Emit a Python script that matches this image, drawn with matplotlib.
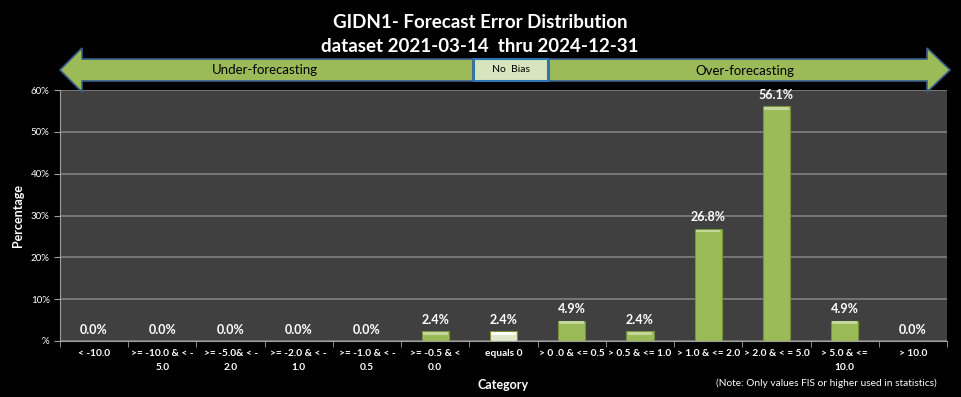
import matplotlib.pyplot as plt
import numpy as np
from matplotlib.patches import Polygon, Rectangle

categories = ['< -10.0', '>= -10.0 & < -\n5.0', '>= -5.0& < -\n2.0', '>= -2.0 & < -\n1.0',
              '>= -1.0 & < -\n0.5', '>= -0.5 & <\n0.0', 'equals 0', '> 0 .0 & <= 0.5',
              '> 0.5 & <= 1.0', '> 1.0 & <= 2.0', '> 2.0 & < = 5.0', '> 5.0 & <=\n10.0', '> 10.0']
percent = [0.0, 0.0, 0.0, 0.0, 0.0, 2.4, 2.4, 4.9, 2.4, 26.8, 56.1, 4.9, 0.0]
title_lines = ['GIDN1- Forecast Error Distribution', 'dataset 2021-03-14  thru 2024-12-31']

plt.rcParams['font.family'] = ['Lato', 'DejaVu Sans']

W, H = 961, 397
fig = plt.figure(figsize=(W / 100, H / 100), dpi=100)
fig.patch.set_facecolor('black')

ax = fig.add_axes([60 / W, 1 - 341 / H, 887 / W, 251 / H])
ax.set_facecolor('#404040')

index = np.arange(len(categories))
colors = ['#9bbb59'] * len(categories)
tops = ['#c3d69b'] * len(categories)
zero_i = categories.index('equals 0')
colors[zero_i] = '#dfe8cc'
tops[zero_i] = '#ffffff'
ax.bar(index, percent, 0.4, color=colors, edgecolor='#76923c', linewidth=0.8, zorder=3)
# bevel highlight at the top of each bar
vals = np.array(percent)
band = np.minimum(vals, 0.7)
ax.bar(index, band, 0.36, bottom=vals - band - 0.15 * (vals > 0), color=tops,
       linewidth=0, zorder=4)

for x, v in zip(index, percent):
    ax.text(x, v + 1.3, f'{v:.1f}%', ha='center', va='bottom', color='white',
            fontsize=9, fontweight='bold', zorder=4)

ax.set_xlim(-0.5, len(categories) - 0.5)
ax.set_ylim(0, 60)
ax.set_yticks(np.arange(0, 61, 10))
ax.set_yticklabels(['%'] + [f'{v}%' for v in range(10, 61, 10)])
ax.yaxis.grid(True, color='#808080', linewidth=1.2, zorder=0)
ax.set_axisbelow(True)

ax.set_xticks(index)
ax.set_xticklabels(categories, fontsize=7.3, color='white', fontweight='bold', linespacing=1.6)
ax.set_xticks(np.arange(-0.5, len(categories), 1), minor=True)
ax.tick_params(axis='x', which='major', length=0, pad=6)
ax.tick_params(axis='x', which='minor', length=4, color='#a0a0a0', direction='out')
ax.tick_params(axis='y', length=4, color='#a0a0a0', labelsize=7, labelcolor='white')

for s in ['top', 'right']:
    ax.spines[s].set_visible(False)
ax.spines['left'].set_color('#a0a0a0')
ax.spines['bottom'].set_color('#a0a0a0')

ax.set_ylabel('Percentage', color='white', fontsize=9, fontweight='bold')
ax.yaxis.set_label_coords(-42 / 887, 0.5)
ax.yaxis.label.set_va('center')
ax.set_xlabel('Category', color='white', fontsize=9, fontweight='bold')
ax.xaxis.set_label_coords(0.5, -44 / 251)
ax.xaxis.label.set_va('center')

fig.text(480 / W, 1 - 22 / H, title_lines[0], ha='center', va='center', color='white',
         fontsize=13.5, fontweight='bold')
fig.text(480 / W, 1 - 47 / H, title_lines[1], ha='center', va='center', color='white',
         fontsize=13.5, fontweight='bold')
fig.text(937 / W, 1 - 383 / H, '(Note: Only values FIS or higher used in statistics)',
         ha='right', va='center', color='white', fontsize=7.3)


def px(pts):
    return [(x / W, 1 - y / H) for x, y in pts]


left_arrow = px([(60, 70), (82, 48), (82, 59), (473, 59), (473, 81), (82, 81), (82, 92)])
right_arrow = px([(549, 59), (927, 59), (927, 48), (950, 70), (927, 92), (927, 81), (549, 81)])
for pts in (left_arrow, right_arrow):
    fig.patches.append(Polygon(pts, closed=True, transform=fig.transFigure, facecolor='#9bbb59',
                               edgecolor='#385d8a', linewidth=1.2, zorder=5))
fig.patches.append(Rectangle((474 / W, 1 - 81 / H), 74 / W, 22 / H, transform=fig.transFigure,
                             facecolor='#d7e4bd', edgecolor='#2e75b6', linewidth=1.5, zorder=5))
fig.text(265 / W, 1 - 70 / H, 'Under-forecasting', ha='center', va='center', color='black',
         fontsize=9.5, zorder=6)
fig.text(511 / W, 1 - 70 / H, 'No  Bias', ha='center', va='center', color='black',
         fontsize=7.5, zorder=6)
fig.text(745 / W, 1 - 71 / H, 'Over-forecasting', ha='center', va='center', color='black',
         fontsize=9.5, zorder=6)

plt.savefig('out.png', dpi=100, facecolor=fig.get_facecolor())
